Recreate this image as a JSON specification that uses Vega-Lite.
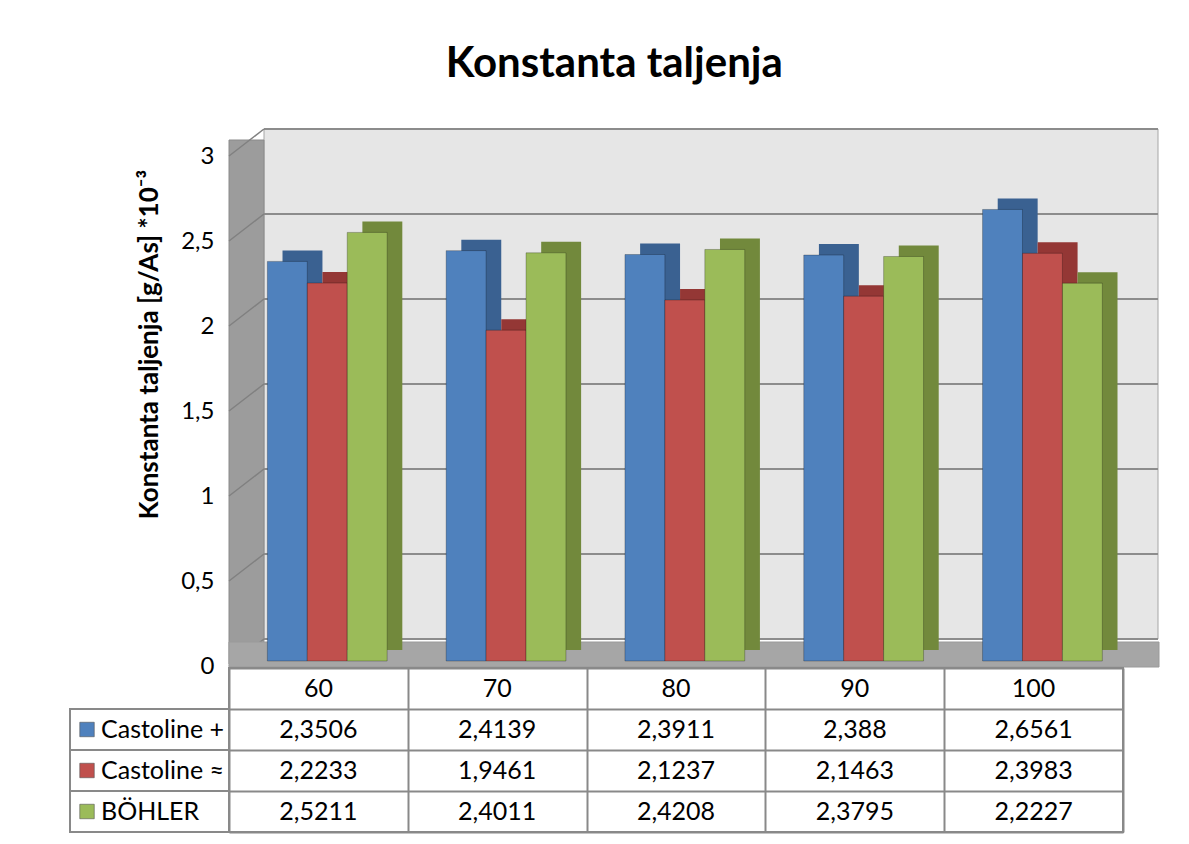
{
  "$schema": "https://vega.github.io/schema/vega-lite/v6.json",
  "background": "white",
  "padding": {"left": 69, "top": 43, "right": 10, "bottom": 5},
  "title": {"text": "Konstanta taljenja", "fontSize": 42, "font": "Lato", "fontWeight": "bold", "color": "black", "anchor": "middle", "offset": 42},
  "datasets": {
    "values": [
      {"cat": "60", "series": "Castoline +", "value": 2.3506},
      {"cat": "70", "series": "Castoline +", "value": 2.4139},
      {"cat": "80", "series": "Castoline +", "value": 2.3911},
      {"cat": "90", "series": "Castoline +", "value": 2.388},
      {"cat": "100", "series": "Castoline +", "value": 2.6561},
      {"cat": "60", "series": "Castoline ≈", "value": 2.2233},
      {"cat": "70", "series": "Castoline ≈", "value": 1.9461},
      {"cat": "80", "series": "Castoline ≈", "value": 2.1237},
      {"cat": "90", "series": "Castoline ≈", "value": 2.1463},
      {"cat": "100", "series": "Castoline ≈", "value": 2.3983},
      {"cat": "60", "series": "BÖHLER", "value": 2.5211},
      {"cat": "70", "series": "BÖHLER", "value": 2.4011},
      {"cat": "80", "series": "BÖHLER", "value": 2.4208},
      {"cat": "90", "series": "BÖHLER", "value": 2.3795},
      {"cat": "100", "series": "BÖHLER", "value": 2.2227}
    ],
    "ticks": [{"t": 0}, {"t": 0.5}, {"t": 1}, {"t": 1.5}, {"t": 2}, {"t": 2.5}, {"t": 3}]
  },
  "columns": 2,
  "spacing": {"row": 7, "column": 0},
  "bounds": "flush",
  "resolve": {"scale": {"color": "independent", "x": "independent", "y": "independent"}},
  "concat": [
    {
      "width": 159, "height": 510,
      "data": {"values": []},
      "mark": {"type": "point", "opacity": 0},
      "encoding": {}
    },
    {
      "width": 894, "height": 510,
      "layer": [
        {
          "data": {"values": [{}]},
          "mark": {"type": "rect", "fill": "#e6e6e6", "stroke": "#a6a6a6", "strokeWidth": 1, "xOffset": 35, "x2Offset": 35, "yOffset": -22, "y2Offset": -22},
          "encoding": {
            "x": {"datum": 0, "type": "quantitative", "scale": {"domain": [0, 1]}, "axis": null},
            "x2": {"datum": 1},
            "y": {"datum": 3, "type": "quantitative", "scale": {"domain": [0, 3], "nice": false}},
            "y2": {"datum": 0}
          }
        },
        {
          "data": {"name": "ticks"},
          "mark": {"type": "rule", "stroke": "#8c8c8c", "strokeWidth": 2, "xOffset": 35, "x2Offset": 35, "yOffset": -22},
          "encoding": {
            "x": {"datum": 0, "type": "quantitative", "scale": {"domain": [0, 1]}, "axis": null},
            "x2": {"datum": 1},
            "y": {"field": "t", "type": "quantitative", "scale": {"domain": [0, 3], "nice": false}}
          }
        },
        {
          "data": {"values": [{}]},
          "mark": {"type": "rect", "fill": "#9c9c9c", "stroke": "#8a8a8a", "strokeWidth": 1, "yOffset": -11, "y2Offset": 3},
          "encoding": {
            "x": {"datum": 0, "type": "quantitative", "scale": {"domain": [0, 1]}, "axis": null},
            "x2": {"datum": 0.0391},
            "y": {"datum": 3, "type": "quantitative", "scale": {"domain": [0, 3], "nice": false}},
            "y2": {"datum": 0}
          }
        },
        {
          "data": {"name": "ticks"},
          "mark": {"type": "rule", "stroke": "#808080", "strokeWidth": 1.5, "yOffset": 5, "y2Offset": -22},
          "encoding": {
            "x": {"datum": 0, "type": "quantitative", "scale": {"domain": [0, 1]}, "axis": null},
            "x2": {"datum": 0.0391},
            "y": {"field": "t", "type": "quantitative", "scale": {"domain": [0, 3], "nice": false}},
            "y2": {"field": "t"}
          }
        },
        {
          "data": {"values": [{}]},
          "mark": {"type": "rect", "fill": "#a6a6a6", "stroke": "#9a9a9a", "strokeWidth": 1, "x2Offset": 36, "yOffset": -19, "y2Offset": 6},
          "encoding": {
            "x": {"datum": 0, "type": "quantitative", "scale": {"domain": [0, 1]}, "axis": null},
            "x2": {"datum": 1},
            "y": {"datum": 0, "type": "quantitative", "scale": {"domain": [0, 3], "nice": false}},
            "y2": {"datum": 0}
          }
        },
        {
          "data": {"name": "values"},
          "mark": {"type": "bar", "yOffset": -11, "y2Offset": -11},
          "encoding": {
            "x": {"field": "cat", "type": "nominal", "sort": ["60", "70", "80", "90", "100"], "scale": {"paddingInner": 0.33, "paddingOuter": 0.165, "align": 0.907}, "axis": null},
            "xOffset": {"field": "series", "type": "nominal", "sort": ["Castoline +", "Castoline ≈", "BÖHLER"], "scale": {"paddingInner": 0, "paddingOuter": 0}},
            "y": {"field": "value", "type": "quantitative", "scale": {"domain": [0, 3], "nice": false}},
            "color": {"field": "series", "type": "nominal", "scale": {"domain": ["Castoline +", "Castoline ≈", "BÖHLER"], "range": ["#3a6191", "#943735", "#72893c"]}, "legend": null}
          }
        },
        {
          "data": {"name": "values"},
          "mark": {"type": "bar", "stroke": "black", "strokeOpacity": 0.25, "strokeWidth": 1},
          "encoding": {
            "x": {"field": "cat", "type": "nominal", "sort": ["60", "70", "80", "90", "100"], "scale": {"paddingInner": 0.33, "paddingOuter": 0.165, "align": 0.65}, "axis": null},
            "xOffset": {"field": "series", "type": "nominal", "sort": ["Castoline +", "Castoline ≈", "BÖHLER"], "scale": {"paddingInner": 0, "paddingOuter": 0}},
            "y": {
              "field": "value", "type": "quantitative", "scale": {"domain": [0, 3], "nice": false},
              "axis": {
                "values": [0, 0.5, 1, 1.5, 2, 2.5, 3], "format": "~r", "grid": false, "domain": false, "ticks": false,
                "labelPadding": 15, "labelOffset": 5, "labelFontSize": 24, "labelFont": "Lato", "labelColor": "black",
                "title": "Konstanta taljenja [g/As] *10⁻³", "titleFontSize": 26, "titleFont": "Lato", "titleFontWeight": "bold", "titleColor": "black",
                "titlePadding": 18, "titleY": 193
              }
            },
            "color": {"field": "series", "type": "nominal", "scale": {"domain": ["Castoline +", "Castoline ≈", "BÖHLER"], "range": ["#4f81bd", "#c0504d", "#9bbb59"]}, "legend": null}
          }
        }
      ],
      "resolve": {"scale": {"x": "independent", "color": "independent"}, "axis": {"x": "independent"}}
    },
    {
      "width": 159, "height": 164,
      "data": {"name": "values"},
      "transform": [{"filter": "datum.cat === '60'"}],
      "encoding": {
        "y": {"field": "series", "type": "nominal", "scale": {"domain": ["hdr", "Castoline +", "Castoline ≈", "BÖHLER"], "paddingInner": 0, "paddingOuter": 0}, "axis": null}
      },
      "layer": [
        {
          "mark": {"type": "rect", "fill": "white", "stroke": "#898989", "strokeWidth": 2},
          "encoding": {
            "x": {"datum": 0, "type": "quantitative", "scale": {"domain": [0, 1]}, "axis": null},
            "x2": {"datum": 1}
          }
        },
        {
          "mark": {"type": "square", "size": 210, "filled": true, "opacity": 1, "stroke": "#555555", "strokeWidth": 1, "strokeOpacity": 0.6},
          "encoding": {
            "x": {"datum": 0.107, "type": "quantitative", "scale": {"domain": [0, 1]}, "axis": null},
            "color": {"field": "series", "type": "nominal", "scale": {"domain": ["Castoline +", "Castoline ≈", "BÖHLER"], "range": ["#4f81bd", "#c0504d", "#9bbb59"]}, "legend": null}
          }
        },
        {
          "mark": {"type": "text", "align": "left", "baseline": "middle", "fontSize": 25, "font": "Lato", "color": "black"},
          "encoding": {
            "x": {"datum": 0.195, "type": "quantitative", "scale": {"domain": [0, 1]}, "axis": null},
            "text": {"field": "series", "type": "nominal"}
          }
        }
      ]
    },
    {
      "width": 894, "height": 164,
      "data": {"name": "values"},
      "view": {"stroke": "#898989", "strokeWidth": 2},
      "encoding": {
        "x": {"field": "cat", "type": "nominal", "sort": ["60", "70", "80", "90", "100"], "scale": {"paddingInner": 0, "paddingOuter": 0},
          "axis": {"grid": true, "gridColor": "#898989", "gridWidth": 2, "gridOpacity": 1, "tickBand": "extent", "labels": false, "ticks": false, "domain": false, "title": null}}
      },
      "layer": [
        {
          "mark": {"type": "text", "fontSize": 25, "font": "Lato", "color": "black", "baseline": "middle"},
          "encoding": {
            "y": {"field": "series", "type": "nominal", "scale": {"domain": ["hdr", "Castoline +", "Castoline ≈", "BÖHLER"], "paddingInner": 0, "paddingOuter": 0},
              "axis": {"grid": true, "gridColor": "#898989", "gridWidth": 2, "gridOpacity": 1, "tickBand": "extent", "labels": false, "ticks": false, "domain": false, "title": null}},
            "text": {"field": "value", "type": "quantitative", "format": ".5~r"}
          }
        },
        {
          "transform": [{"filter": "datum.series === 'Castoline +'"}],
          "mark": {"type": "text", "fontSize": 25, "font": "Lato", "color": "black", "baseline": "middle"},
          "encoding": {
            "y": {"datum": "hdr", "type": "nominal"},
            "text": {"field": "cat", "type": "nominal"}
          }
        }
      ]
    }
  ],
  "config": {
    "font": "Lato",
    "view": {"stroke": null},
    "locale": {"number": {"decimal": ",", "thousands": ".", "grouping": [3], "currency": ["", " €"]}}
  }
}
